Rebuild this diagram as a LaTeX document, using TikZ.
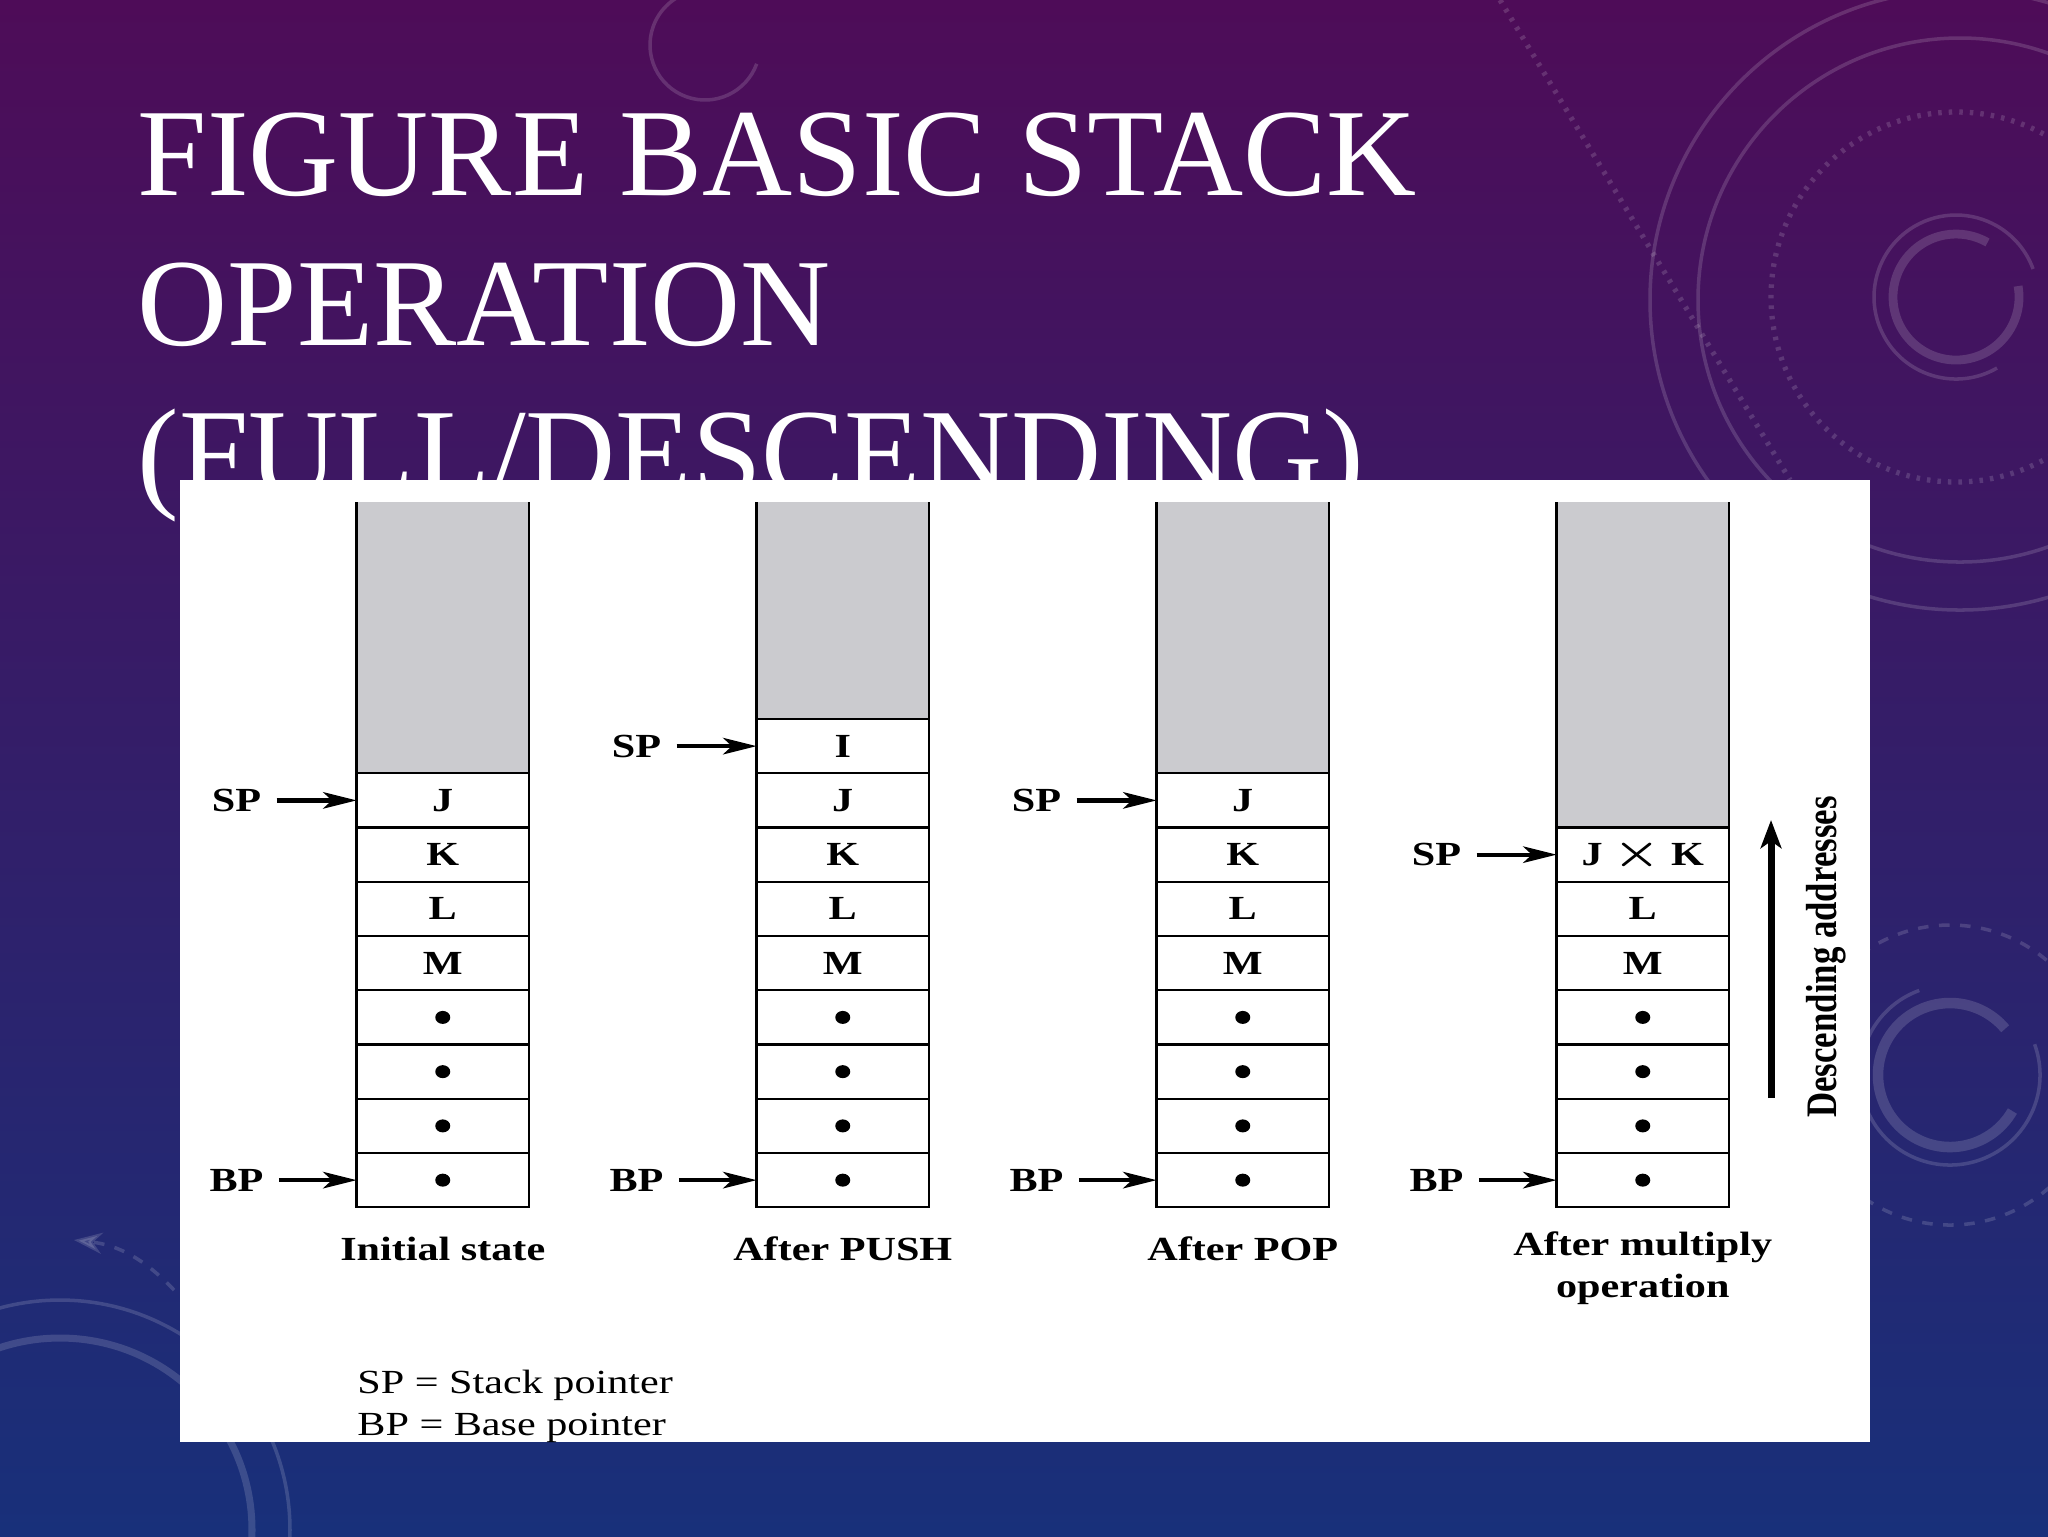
\documentclass[tikz,border=0pt]{standalone}
\usepackage{fontspec}
\setmainfont{Liberation Serif}
\usetikzlibrary{arrows.meta}
\definecolor{bgtop}{RGB}{78,12,88}
\definecolor{bgmid}{RGB}{56,22,104}
\definecolor{bgbot}{RGB}{24,48,122}
\definecolor{voidgray}{RGB}{203,203,207}
\newcommand{\wtext}[1]{\scalebox{1.25}[1]{#1}}
\newcommand{\lblfont}{\bfseries\fontsize{9.6}{11.9}\selectfont}
\newcommand{\multsign}{{\fontsize{12}{12}\selectfont\boldmath$\times$}}

\begin{document}
\begin{tikzpicture}
  [x=0.1mm,y=-0.1mm,
   deco/.style={draw=white,opacity=.15,line width=1pt},
   cell/.style={draw,line width=.6pt,minimum width=17.25mm,minimum height=5.425mm,inner sep=0pt,outer sep=0pt,font=\lblfont},
   lbl/.style={xscale=1.25,font=\lblfont},
   key/.style={xscale=1.25,inner sep=0pt,anchor=base west,font=\fontsize{9.6}{11.9}\selectfont},
   ptr/.style={-{Stealth[length=9.5pt,width=4.7pt,inset=2.5pt]},line width=1.2pt},
   title/.style={text=white,inner sep=0pt,anchor=base west,font=\fontsize{35.5}{42}\selectfont}]

  \useasboundingbox (0,0) rectangle (2048,1536);
  \shade[top color=bgtop,middle color=bgmid,bottom color=bgbot] (0,0) rectangle (2048,1536);

  % background rings
  \draw[deco,line width=2.5pt] (1956,297) ++(-10:63) arc[start angle=-10,end angle=300,radius=63];
  \draw[deco] (1956,297) ++(60:82) arc[start angle=60,end angle=340,radius=82];
  \draw[deco,dotted,line width=1.5pt] (1956,297) circle (185);
  \draw[deco] (1960,300) circle (262);
  \draw[deco] (1960,300) circle (310);
  \draw[deco,dotted,line width=1.5pt] (1500,0) -- (1790,480);
  \draw[deco] (705,45) ++(20:55) arc[start angle=20,end angle=250,radius=55];
  \draw[deco] (60,1530) circle (230);
  \draw[deco,line width=2pt] (60,1530) circle (192);
  \draw[deco,dashed,-{Stealth[length=8pt]}] (174,1290) to[bend right=20] (74,1240);
  \draw[deco,line width=3pt] (1950,1075) ++(30:72) arc[start angle=30,end angle=320,radius=72];
  \draw[deco] (1950,1075) ++(-20:90) arc[start angle=-20,end angle=250,radius=90];
  \draw[deco,dashed] (1950,1075) circle (150);

  \node[title] (t1) at (137,195) {FIGURE BASIC STACK};
  \node[title] (t2) at (137,345) {OPERATION};
  \node[title] (t3) at (137,495) {(FULL/DESCENDING)};

  \fill[white] (180,480) rectangle (1870,1442);

  \foreach \s/\x/\g/\m/\items in
  {1/356.5/5/4/{J,K,L,M},
   2/756.5/4/5/{I,J,K,L,M},
   3/1156.5/5/4/{J,K,L,M},
   4/1556.5/6/3/{J \multsign{} K,L,M}}
  {
    \fill[voidgray] (\x,502) rectangle ++(172.5,{\g*54.25});
    \draw[line width=.6pt] (\x,502) -- ++(0,{\g*54.25}) (\x+172.5,502) -- ++(0,{\g*54.25});
    \foreach \t [count=\i] in \items
      \node[cell] (c\s-\i) at (\x+86.25,{502+(\g+\i-.5)*54.25}) {\wtext{\t}};
    \foreach \j in {1,...,4} {
      \pgfmathtruncatemacro\k{\m+\j}
      \node[cell] (c\s-\k) at (\x+86.25,{502+(\g+\k-.5)*54.25}) {};
      \fill (c\s-\k) circle[x radius=7.5,y radius=6.5];
    }
    \pgfmathtruncatemacro\n{\m+4}
    \node[lbl] (sp\s) at (\x-120,{502+(\g+.5)*54.25}) {SP};
    \draw[ptr] (sp\s) -- (c\s-1);
    \node[lbl] (bp\s) at (\x-120,{502+(\g+\n-.5)*54.25}) {BP};
    \draw[ptr] (bp\s) -- (c\s-\n);
  }

  \foreach \s/\x/\c in {1/356.5/Initial state, 2/756.5/After PUSH, 3/1156.5/After POP}
    \node[lbl,anchor=base] (cap\s) at (\x+86.25,1260) {\c};
  \node[lbl,anchor=base] (cap4a) at (1642.75,1255) {After multiply};
  \node[lbl,anchor=base] (cap4b) at (1642.75,1297) {operation};

  \coordinate (dlow) at (1771,1098);
  \coordinate (dhigh) at (1771,820);
  \draw[-{Stealth[length=8pt,width=5.9pt,inset=2pt]},line width=2pt] (dlow) -- (dhigh);
  \node[rotate=90,font=\bfseries\fontsize{9.9}{11.9}\selectfont] (desc) at (1826,957) {\scalebox{1}[1.25]{Descending addresses}};

  \node[key] (key1) at (356.5,1393) {SP = Stack pointer};
  \node[key] (key2) at (356.5,1435) {BP = Base pointer};
\end{tikzpicture}
\end{document}
